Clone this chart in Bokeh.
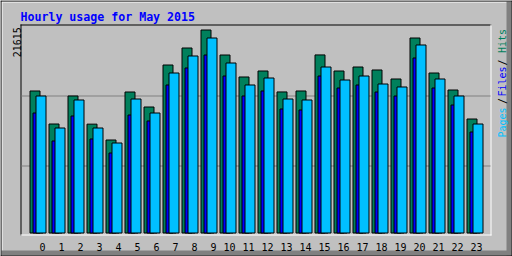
import math
from bokeh.plotting import figure
from bokeh.models import Range1d, ColumnDataSource
from bokeh.transform import dodge
from bokeh.core.properties import value
from bokeh.embed import file_html
from bokeh.resources import INLINE

# ---------------- data ----------------
hours = list(range(24))
hour_labels = [str(h) for h in hours]
hits = [15120, 11606, 14588, 11590, 9902, 15013, 13416, 17888, 19698, 21615,
        18953, 16611, 17249, 15020, 15120, 18960, 17249, 17675, 17356, 16398,
        20763, 17036, 15226, 12138]
files = [12777, 9796, 12458, 10009, 8518, 12564, 11926, 15759, 17569, 18953,
         16717, 14588, 15120, 13203, 13097, 16717, 15439, 15759, 15013, 14587,
         18634, 15439, 13629, 10754]
pages = [14587, 11180, 14162, 11180, 9583, 14268, 12777, 17036, 18847, 20763,
         18101, 15759, 16504, 14268, 14162, 17675, 16291, 16717, 15865, 15546,
         20018, 16398, 14588, 11606]
title_text = "Hourly usage for May 2015"
max_label = str(max(hits))
legend_parts = ["Pages", "/", "Files", "/", "Hits"]

# ---------------- styling / geometry ----------------
HIT_C, FILE_C, PAGE_C = "#00805c", "#0000ff", "#00c0ff"
BG, DARK, WHITE, BLACK = "#c0c0c0", "#808080", "#ffffff", "#000000"
MONO = "DejaVu Sans Mono"

W, H = 512, 256
SLOT = 19.0          # px per hour
X0 = 40.5            # canvas x of hour 0
BASE, SPAN = 232.5, 203.0
TSHIFT = 3.0         # compensation for text baseline offset
vmax = max(hits)

def dx(px):
    return (px - X0) / SLOT

def dy(py):
    return (BASE - py) / SPAN * vmax

p = figure(width=W, height=H, x_range=Range1d(dx(0), dx(W)),
           y_range=Range1d(dy(H), dy(0)),
           output_backend="svg", toolbar_location=None, title=None,
           x_axis_location=None, y_axis_location=None, min_border=0)
p.background_fill_color = BG
p.border_fill_color = BG
p.outline_line_color = None
p.grid.visible = False

def cbox(x0, y0, x1, y1, color):
    p.quad(left=dx(x0), right=dx(x1), top=dy(y0), bottom=dy(y1),
           fill_color=color, line_color=None)

# outer frame with bevel
cbox(1, 1, 511, 2, WHITE)
cbox(1, 1, 2, 255, WHITE)
cbox(506, 1, 511, 255, DARK)
cbox(1, 250, 511, 255, DARK)
cbox(0, 0, 512, 1, BLACK)
cbox(0, 255, 512, 256, BLACK)
cbox(0, 0, 1, 256, BLACK)
cbox(511, 0, 512, 256, BLACK)
# plot box
cbox(20, 24, 491, 25, BLACK)
cbox(20, 24, 21, 235, BLACK)
cbox(490, 24, 491, 235, WHITE)
cbox(20, 234, 491, 235, WHITE)

# horizontal index lines
for gy in (95, 165):
    cbox(21, gy, 490, gy + 1, DARK)

# bars
src = ColumnDataSource(dict(hour=hours, hits=hits, files=files, pages=pages))
bw = 10 / SLOT
for field, off, col in (("hits", -6, HIT_C), ("files", -3, FILE_C), ("pages", 0, PAGE_C)):
    p.vbar(x=dodge("hour", off / SLOT), top=field, bottom=0, width=bw,
           source=src, fill_color=col, line_color=BLACK, line_width=1)

# hour labels (right aligned in their cell)
p.text(x=dodge("hour", 4.5 / SLOT), y=dy(249 - TSHIFT), text="lab",
       source=ColumnDataSource(dict(hour=hours, lab=hour_labels)),
       text_font=value(MONO), text_font_size="10px", text_color=BLACK,
       text_align="right", text_baseline="alphabetic", text_line_height=1.0)

def ctext(cx, cy, txt, color, size="10px", bold=False, angle=0.0, align="left"):
    p.text(x=[dx(cx)], y=[dy(cy)], text=[txt], text_color=color,
           text_font=value(MONO), text_font_size=size,
           text_font_style="bold" if bold else "normal",
           angle=angle, text_align=align, text_baseline="alphabetic",
           text_line_height=1.0)

ctext(20, 19 - TSHIFT, title_text, FILE_C, size="11.6px", bold=True)
ctext(19 - TSHIFT, 41.7, max_label, BLACK, angle=math.pi / 2, align="center")

leg_cols = [PAGE_C, BLACK, FILE_C, BLACK, HIT_C]
leg_y = [122, 100.5, 81, 62, 40.5]
for txt, c, cy in zip(legend_parts, leg_cols, leg_y):
    ctext(505 - TSHIFT, cy, txt, c, angle=math.pi / 2, align="center")

open("out.html", "w").write(file_html(p, INLINE))
